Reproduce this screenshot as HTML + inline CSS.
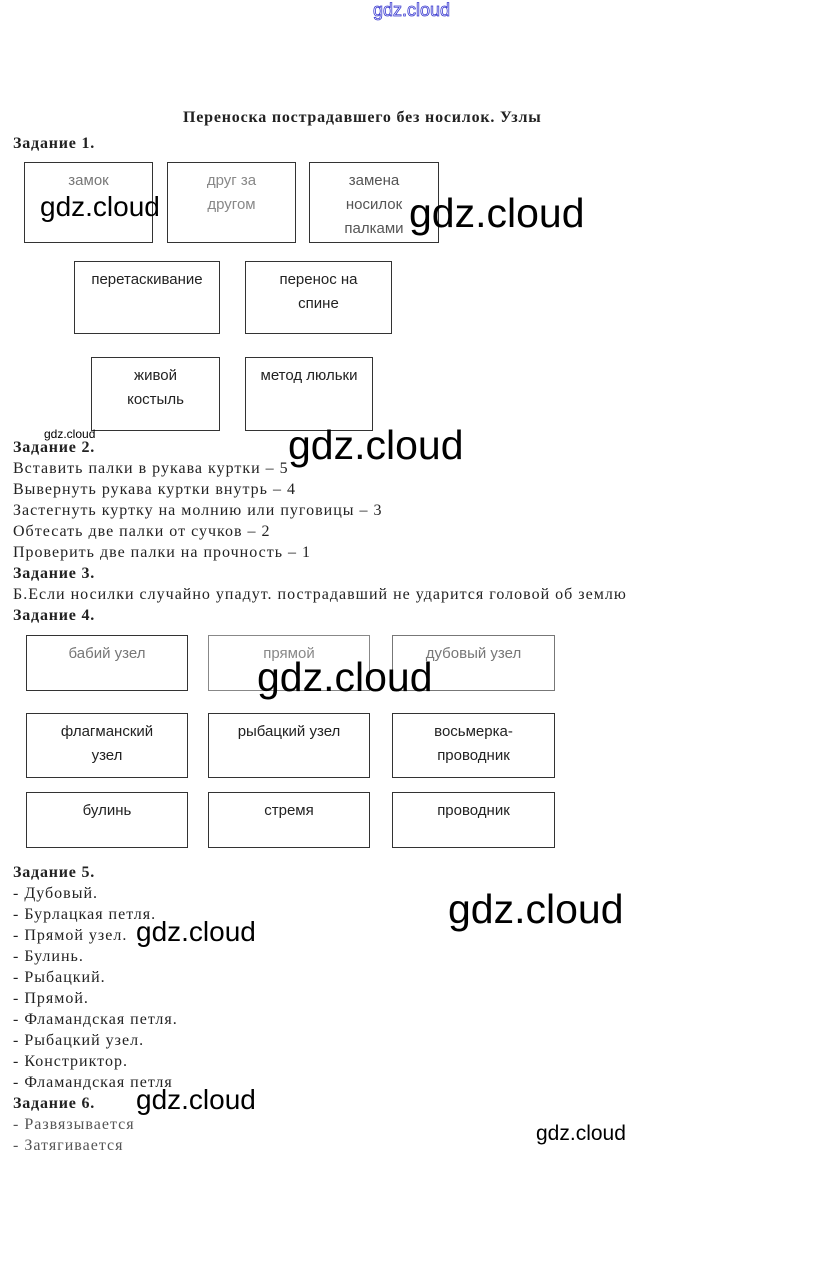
<!DOCTYPE html>
<html><head><meta charset="utf-8"><style>
body{margin:0;width:823px;height:1269px;background:#fff;position:relative;overflow:hidden}
.s{position:absolute;font-family:"Liberation Serif",serif;font-size:16px;color:#222;white-space:nowrap;line-height:21px;letter-spacing:1px}
.b{font-weight:bold;letter-spacing:0.8px}
.bx{position:absolute;border:1px solid #333;box-sizing:border-box;font-family:"Liberation Sans",sans-serif;font-size:15px;color:#222;text-align:center;line-height:24px;padding-top:6px}
.w{position:absolute;font-family:"Liberation Sans",sans-serif;color:#000;white-space:nowrap;line-height:1}
</style></head><body>
<div class="w" style="left:373px;top:1px;font-size:18px;color:#fff;-webkit-text-stroke:0.8px #3a3ad0">gdz.cloud</div>
<div class="s b" style="left:183px;top:107px">Переноска пострадавшего без носилок. Узлы</div>
<div class="s b" style="left:13px;top:133px">Задание 1.</div>

<div class="bx" style="left:24px;top:162px;width:129px;height:81px;color:#777">замок</div>
<div class="bx" style="left:167px;top:162px;width:129px;height:81px;color:#888">друг за<br>другом</div>
<div class="bx" style="left:309px;top:162px;width:130px;height:81px;color:#555">замена<br>носилок<br>палками</div>
<div class="bx" style="left:74px;top:261px;width:146px;height:73px">перетаскивание</div>
<div class="bx" style="left:245px;top:261px;width:147px;height:73px">перенос на<br>спине</div>
<div class="bx" style="left:91px;top:357px;width:129px;height:74px">живой<br>костыль</div>
<div class="bx" style="left:245px;top:357px;width:128px;height:74px">метод люльки</div>

<div class="s b" style="left:13px;top:437px">Задание 2.</div>
<div class="s" style="left:13px;top:458px">Вставить палки в рукава куртки – 5</div>
<div class="s" style="left:13px;top:479px">Вывернуть рукава куртки внутрь – 4</div>
<div class="s" style="left:13px;top:500px">Застегнуть куртку на молнию или пуговицы – 3</div>
<div class="s" style="left:13px;top:521px">Обтесать две палки от сучков – 2</div>
<div class="s" style="left:13px;top:542px">Проверить две палки на прочность – 1</div>
<div class="s b" style="left:13px;top:563px">Задание 3.</div>
<div class="s" style="left:13px;top:584px">Б.Если носилки случайно упадут. пострадавший не ударится головой об землю</div>
<div class="s b" style="left:13px;top:605px">Задание 4.</div>

<div class="bx" style="left:26px;top:635px;width:162px;height:56px;color:#777">бабий узел</div>
<div class="bx" style="left:208px;top:635px;width:162px;height:56px;color:#888;border-color:#888">прямой</div>
<div class="bx" style="left:392px;top:635px;width:163px;height:56px;color:#777;border-color:#777">дубовый узел</div>
<div class="bx" style="left:26px;top:713px;width:162px;height:65px">флагманский<br>узел</div>
<div class="bx" style="left:208px;top:713px;width:162px;height:65px">рыбацкий узел</div>
<div class="bx" style="left:392px;top:713px;width:163px;height:65px">восьмерка-<br>проводник</div>
<div class="bx" style="left:26px;top:792px;width:162px;height:56px">булинь</div>
<div class="bx" style="left:208px;top:792px;width:162px;height:56px">стремя</div>
<div class="bx" style="left:392px;top:792px;width:163px;height:56px">проводник</div>

<div class="s b" style="left:13px;top:862px">Задание 5.</div>
<div class="s" style="left:13px;top:883px">- Дубовый.</div>
<div class="s" style="left:13px;top:904px">- Бурлацкая петля.</div>
<div class="s" style="left:13px;top:925px">- Прямой узел.</div>
<div class="s" style="left:13px;top:946px">- Булинь.</div>
<div class="s" style="left:13px;top:967px">- Рыбацкий.</div>
<div class="s" style="left:13px;top:988px">- Прямой.</div>
<div class="s" style="left:13px;top:1009px">- Фламандская петля.</div>
<div class="s" style="left:13px;top:1030px">- Рыбацкий узел.</div>
<div class="s" style="left:13px;top:1051px">- Констриктор.</div>
<div class="s" style="left:13px;top:1072px">- Фламандская петля</div>
<div class="s b" style="left:13px;top:1093px">Задание 6.</div>
<div class="s" style="left:13px;top:1114px;color:#555">- Развязывается</div>
<div class="s" style="left:13px;top:1135px;color:#555">- Затягивается</div>

<div class="w" style="left:40px;top:193px;font-size:28px">gdz.cloud</div>
<div class="w" style="left:409px;top:193px;font-size:41px">gdz.cloud</div>
<div class="w" style="left:44px;top:428px;font-size:12px">gdz.cloud</div>
<div class="w" style="left:288px;top:425px;font-size:41px">gdz.cloud</div>
<div class="w" style="left:257px;top:657px;font-size:41px">gdz.cloud</div>
<div class="w" style="left:448px;top:889px;font-size:41px">gdz.cloud</div>
<div class="w" style="left:136px;top:918px;font-size:28px">gdz.cloud</div>
<div class="w" style="left:136px;top:1086px;font-size:28px">gdz.cloud</div>
<div class="w" style="left:536px;top:1123px;font-size:21px">gdz.cloud</div>
</body></html>
